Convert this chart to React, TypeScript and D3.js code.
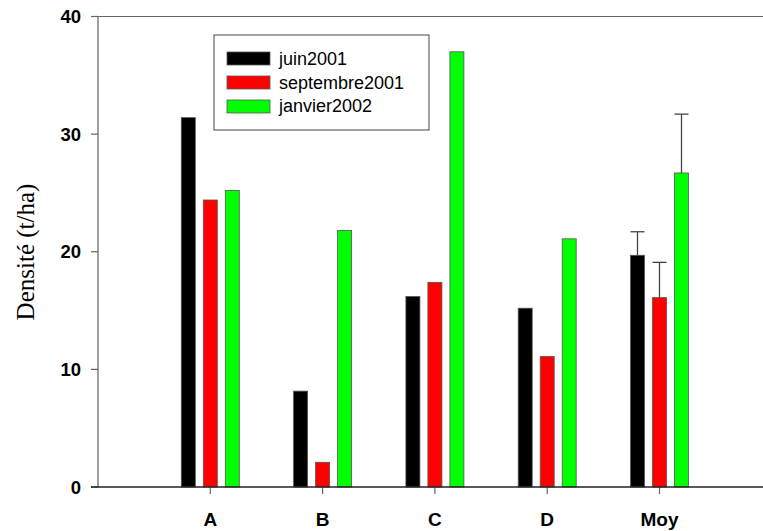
import React from 'react';
import * as d3 from 'd3';

const categories = ['A', 'B', 'C', 'D', 'Moy'];
const seriesNames = ['juin2001', 'septembre2001', 'janvier2002'];
const seriesColors = ['#000000', '#ff0000', '#00ff00'];
const juin2001 = [31.4, 8.15, 16.2, 15.2, 19.7];
const septembre2001 = [24.4, 2.1, 17.4, 11.1, 16.1];
const janvier2002 = [25.2, 21.8, 37.0, 21.1, 26.7];
// upper error bar end, only on the Moy group
const errTop = [21.7, 19.1, 31.7];
const yTicks = [0, 10, 20, 30, 40];

export default function App() {
  const width = 763;
  const height = 531;
  const left = 98, top = 16.5, bottom = 487;
  const series = [juin2001, septembre2001, janvier2002];

  const y = d3.scaleLinear().domain([0, 40]).range([bottom, top]);
  // categories sit at 1..5 on a 0..6 axis
  const x = d3.scaleLinear().domain([0, 6]).range([left, left + 6 * 112.3]);
  const barW = 14, gap = 22;

  return (
    <svg width={width} height={height} style={{ position: 'absolute', left: 0, top: 0 }}>
      <rect width={width} height={height} fill="#fff" />
      {/* frame top line */}
      <line x1={left} x2={width} y1={top} y2={top} stroke="#666" strokeWidth={1.2} />
      {/* y axis */}
      <line x1={left} x2={left} y1={top} y2={bottom} stroke="#808080" strokeWidth={1.5} />
      {yTicks.map(t => (
        <g key={t}>
          <line x1={left - 7} x2={left} y1={y(t)} y2={y(t)} stroke="#666" strokeWidth={1.2} />
          <text x={81} y={y(t) + 6.5} textAnchor="end" fontFamily="Liberation Sans, Arial, sans-serif"
            fontWeight="bold" fontSize={18.5} fill="#000">{t}</text>
        </g>
      ))}
      <text transform={`translate(33.5,252) rotate(-90)`} textAnchor="middle"
        fontFamily="Liberation Serif, Times New Roman, serif" fontSize={25} fill="#000">Densité (t/ha)</text>

      {/* bars */}
      {categories.map((c, i) => (
        <g key={c}>
          {series.map((s, j) => {
            const cx = x(i + 1) + (j - 1) * gap;
            return (
              <rect key={j} x={cx - barW / 2} y={y(s[i])} width={barW} height={bottom - y(s[i])}
                fill={seriesColors[j]} stroke="#555" strokeWidth={0.8} />
            );
          })}
          {c === 'Moy' && series.map((s, j) => {
            const cx = x(i + 1) + (j - 1) * gap;
            return (
              <g key={'e' + j}>
                <line x1={cx} x2={cx} y1={y(s[i])} y2={y(errTop[j])} stroke="#444" strokeWidth={1.3} />
                <line x1={cx - 7} x2={cx + 7} y1={y(errTop[j])} y2={y(errTop[j])} stroke="#444" strokeWidth={1.3} />
              </g>
            );
          })}
          <line x1={x(i + 1)} x2={x(i + 1)} y1={bottom} y2={bottom + 7} stroke="#666" strokeWidth={1.2} />
          <text x={x(i + 1)} y={526} textAnchor="middle" fontFamily="Liberation Sans, Arial, sans-serif"
            fontWeight="bold" fontSize={19} fill="#000">{c}</text>
        </g>
      ))}

      {/* x axis */}
      <line x1={left - 7} x2={width} y1={bottom} y2={bottom} stroke="#222" strokeWidth={1.5} />

      {/* legend */}
      <rect x={214} y={35} width={215} height={95} fill="#fff" stroke="#444" strokeWidth={1} />
      {seriesNames.map((n, j) => (
        <g key={n}>
          <rect x={227} y={52 + j * 24} width={43} height={13} fill={seriesColors[j]} stroke="#555" strokeWidth={0.8} />
          <text x={279} y={65 + j * 23.5} fontFamily="Liberation Sans, Arial, sans-serif" fontSize={18} fill="#000">{n}</text>
        </g>
      ))}
    </svg>
  );
}
